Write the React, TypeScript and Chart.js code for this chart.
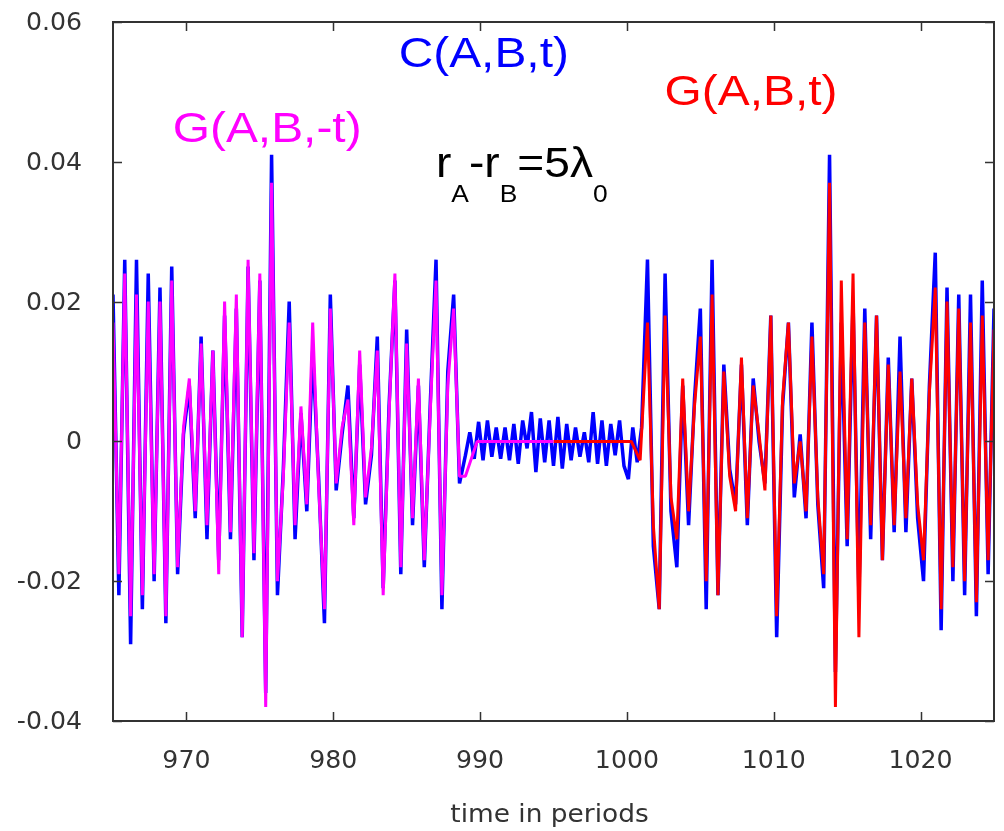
import React, { useEffect, useRef } from "react";
import { Chart, registerables } from "chart.js";

Chart.register(...registerables);

// ---- axes ----
const X_MIN = 965;
const X_MAX = 1025;
const Y_MIN = -0.04;
const Y_MAX = 0.06;
const X_TICKS = [970, 980, 990, 1000, 1010, 1020];
const X_TICK_LABELS = ["970", "980", "990", "1000", "1010", "1020"];
const Y_TICKS = [0.06, 0.04, 0.02, 0, -0.02, -0.04];
const Y_TICK_LABELS = ["0.06", "0.04", "0.02", "0", "-0.02", "-0.04"];
const X_TITLE = "time in periods";

// ---- C(A,B,t), left part: every 0.4 periods from 965 to 988.6 ----
const C_LEFT_START = 965;
const C_LEFT_STEP = 0.4;
const C_LEFT_VALUES = [
  0.021, -0.022, 0.026, -0.029, 0.026, -0.024, 0.024, -0.020, 0.022, -0.026,
  0.025, -0.019, 0.001, 0.008, -0.011, 0.015, -0.014, 0.013, -0.017, 0.018,
  -0.014, 0.019, -0.028, 0.025, -0.017, 0.023, -0.036, 0.041,
  -0.022, -0.004, 0.020, -0.014, 0.004, -0.010, 0.013, -0.005, -0.026, 0.021,
  -0.007, 0.001, 0.008, -0.011, 0.011, -0.009, -0.002, 0.015, -0.021, 0.005,
  0.023, -0.019, 0.016, -0.012, 0.008, -0.018, 0.005, 0.026, -0.024, 0.010,
  0.021, -0.006,
];

// ---- C(A,B,t), quiet part: every 0.3 periods from 989.0 to 1001.0 ----
const C_QUIET_START = 989.0;
const C_QUIET_STEP = 0.3;
const C_QUIET_VALUES = [
  -0.002, 0.0013, -0.0025, 0.0028, -0.0027, 0.003, -0.0022, 0.002, -0.0025, 0.002,
  -0.0027, 0.0025, -0.0032, 0.003, -0.001, 0.0042, -0.0044, 0.0033, -0.003, 0.003,
  -0.0035, 0.0035, -0.0039, 0.0025, -0.0027, 0.002, -0.0022, 0.0013, -0.003, 0.0042,
  -0.0032, 0.003, -0.0035, 0.0025, -0.002, 0.003, -0.0035, -0.0054, 0.002, -0.003,
  0.002,
];

// ---- C(A,B,t), right part: every 0.4 periods from 1001.4 to 1025 ----
const C_RIGHT_START = 1001.4;
const C_RIGHT_STEP = 0.4;
const C_RIGHT_VALUES = [
  0.026, -0.015, -0.024, 0.024, -0.010, -0.018, 0.008, -0.012, 0.006, 0.019,
  -0.024, 0.026, -0.022, 0.011, -0.004, -0.009, 0.011, -0.012, 0.009, 0.000,
  -0.006, 0.018, -0.028, 0.005, 0.017, -0.008, 0.001, -0.011, 0.017, -0.009,
  -0.021, 0.041, -0.033, 0.017, -0.015, 0.020, -0.022, 0.019, -0.014, 0.018,
  -0.017, 0.012, -0.013, 0.015, -0.013, 0.009, -0.011, -0.020, 0.008, 0.027,
  -0.027, 0.022, -0.020, 0.021, -0.022, 0.021, -0.025, 0.023, -0.019, 0.019,
];

// ---- G(A,B,-t): every 0.4 periods from 965 to 989, then flat ----
const GNEG_START = 965;
const GNEG_STEP = 0.4;
const GNEG_VALUES = [
  0.017, -0.019, 0.024, -0.025, 0.021, -0.022, 0.020, -0.019, 0.020, -0.025,
  0.023, -0.018, 0.002, 0.009, -0.010, 0.014, -0.012, 0.013, -0.019, 0.020,
  -0.013, 0.021, -0.028, 0.026, -0.016, 0.024, -0.038, 0.037,
  -0.020, -0.005, 0.017, -0.012, 0.005, -0.009, 0.017, -0.006, -0.024, 0.019,
  -0.006, 0.002, 0.006, -0.012, 0.013, -0.008, -0.001, 0.013, -0.022, 0.004,
  0.024, -0.018, 0.014, -0.011, 0.009, -0.017, 0.004, 0.023, -0.022, 0.008,
  0.019, -0.005, -0.005,
];
const GNEG_TAIL_T = [989.4, 989.8, 995.0];
const GNEG_TAIL_V = [-0.0025, 0, 0];

// ---- G(A,B,t): flat, then every 0.4 periods from 1001.4 to 1025 ----
const GPOS_HEAD_T = [995.0, 1000.3, 1000.9];
const GPOS_HEAD_V = [0, 0, -0.0027];
const GPOS_START = 1001.4;
const GPOS_STEP = 0.4;
const GPOS_VALUES = [
  0.017, -0.012, -0.024, 0.018, -0.008, -0.014, 0.009, -0.010, 0.005, 0.015,
  -0.020, 0.021, -0.022, 0.010, -0.005, -0.010, 0.012, -0.011, 0.008, 0.001,
  -0.007, 0.018, -0.025, 0.006, 0.017, -0.006, 0.000, -0.010, 0.015, -0.008,
  -0.019, 0.037, -0.038, 0.023, -0.014, 0.024, -0.028, 0.017, -0.012, 0.018,
  -0.017, 0.011, -0.012, 0.010, -0.011, 0.009, -0.009, -0.017, 0.007, 0.022,
  -0.024, 0.020, -0.018, 0.019, -0.020, 0.017, -0.023, 0.018, -0.017, 0.016,
];

// ---- annotation texts ----
const LABEL_C = "C(A,B,t)";
const LABEL_GNEG = "G(A,B,-t)";
const LABEL_GPOS = "G(A,B,t)";

const BLUE = "#0000ff";
const MAGENTA = "#ff00ff";
const RED = "#ff0000";
const TEXT = "#333333";

type P = { x: number; y: number };
const uniform = (start: number, step: number, vals: number[]): P[] =>
  vals.map((v, i) => ({ x: Math.round((start + step * i) * 100) / 100, y: v }));
const pairs = (ts: number[], vs: number[]): P[] => ts.map((t, i) => ({ x: t, y: vs[i] }));

function scaledText(
  ctx: CanvasRenderingContext2D,
  text: string,
  x: number,
  y: number,
  sx: number,
  align: CanvasTextAlign
) {
  ctx.save();
  ctx.translate(x, y);
  ctx.scale(sx, 1);
  ctx.textAlign = align;
  ctx.fillText(text, 0, 0);
  ctx.restore();
}

const framePlugin = {
  id: "frameAndText",
  afterDraw(chart: any) {
    const ctx: CanvasRenderingContext2D = chart.ctx;
    const a = chart.chartArea;
    const xs = chart.scales.x;
    const ys = chart.scales.y;
    ctx.save();
    // frame
    ctx.strokeStyle = TEXT;
    ctx.lineWidth = 2;
    ctx.strokeRect(a.left, a.top, a.right - a.left, a.bottom - a.top);
    // inward ticks
    ctx.lineWidth = 1.5;
    ctx.beginPath();
    X_TICKS.forEach((t) => {
      const px = Math.round(xs.getPixelForValue(t)) + 0.5;
      ctx.moveTo(px, a.bottom);
      ctx.lineTo(px, a.bottom - 9);
      ctx.moveTo(px, a.top);
      ctx.lineTo(px, a.top + 9);
    });
    Y_TICKS.forEach((v) => {
      const py = Math.round(ys.getPixelForValue(v)) + 0.5;
      ctx.moveTo(a.left, py);
      ctx.lineTo(a.left + 9, py);
      ctx.moveTo(a.right, py);
      ctx.lineTo(a.right - 9, py);
    });
    ctx.stroke();

    // tick labels
    ctx.fillStyle = TEXT;
    ctx.textBaseline = "alphabetic";
    ctx.font = '24px "DejaVu Sans", sans-serif';
    Y_TICKS.forEach((v, i) => {
      const py = ys.getPixelForValue(v);
      scaledText(ctx, Y_TICK_LABELS[i], a.left - 31, py + 8, 1.05, "right");
    });
    X_TICKS.forEach((t, i) => {
      const px = xs.getPixelForValue(t);
      scaledText(ctx, X_TICK_LABELS[i], px, a.bottom + 47, 1.05, "center");
    });
    // axis title
    scaledText(ctx, X_TITLE, (a.left + a.right) / 2 - 4, a.bottom + 101, 1.1, "center");

    // annotations
    ctx.font = '42px "Liberation Sans", Arial, sans-serif';
    ctx.fillStyle = BLUE;
    scaledText(ctx, LABEL_C, xs.getPixelForValue(990.25), ys.getPixelForValue(0.0535), 1.14, "center");
    ctx.fillStyle = MAGENTA;
    scaledText(ctx, LABEL_GNEG, xs.getPixelForValue(975.5), ys.getPixelForValue(0.0428), 1.14, "center");
    ctx.fillStyle = RED;
    scaledText(ctx, LABEL_GPOS, xs.getPixelForValue(1008.45), ys.getPixelForValue(0.0481), 1.14, "center");

    // r_A - r_B = 5 lambda_0
    ctx.fillStyle = "#000000";
    const sx = 1.1;
    let cx = xs.getPixelForValue(986.99);
    const base = ys.getPixelForValue(0.0378);
    const subBase = base + 25;
    const parts: [string, boolean][] = [
      ["r", false],
      ["A", true],
      ["-r", false],
      ["B", true],
      ["=5\u03bb", false],
      ["0", true],
    ];
    parts.forEach(([s, sub]) => {
      ctx.font = sub
        ? '24px "Liberation Sans", Arial, sans-serif'
        : '42px "Liberation Sans", Arial, sans-serif';
      scaledText(ctx, s, cx, sub ? subBase : base, sx, "left");
      cx += ctx.measureText(s).width * sx;
    });
    ctx.restore();
  },
};

export default function App() {
  const ref = useRef<HTMLCanvasElement | null>(null);

  useEffect(() => {
    document.body.style.margin = "0";
    document.body.style.background = "#ffffff";
    const canvas = ref.current;
    if (!canvas) return;

    const cData = [
      ...uniform(C_LEFT_START, C_LEFT_STEP, C_LEFT_VALUES),
      ...uniform(C_QUIET_START, C_QUIET_STEP, C_QUIET_VALUES),
      ...uniform(C_RIGHT_START, C_RIGHT_STEP, C_RIGHT_VALUES),
    ];
    const gNegData = [...uniform(GNEG_START, GNEG_STEP, GNEG_VALUES), ...pairs(GNEG_TAIL_T, GNEG_TAIL_V)];
    const gPosData = [...pairs(GPOS_HEAD_T, GPOS_HEAD_V), ...uniform(GPOS_START, GPOS_STEP, GPOS_VALUES)];

    const common = {
      pointRadius: 0,
      tension: 0,
      fill: false,
      borderJoinStyle: "bevel" as const,
    };

    const chart = new Chart(canvas, {
      type: "line",
      data: {
        datasets: [
          { label: LABEL_GNEG, data: gNegData, borderColor: MAGENTA, borderWidth: 3, order: 1, ...common },
          { label: LABEL_GPOS, data: gPosData, borderColor: RED, borderWidth: 3, order: 1, ...common },
          { label: LABEL_C, data: cData, borderColor: BLUE, borderWidth: 3.5, order: 2, ...common },
        ],
      },
      options: {
        animation: false,
        responsive: false,
        maintainAspectRatio: false,
        devicePixelRatio: 1,
        layout: { padding: { top: 22, right: 10, left: 0, bottom: 0 } },
        plugins: {
          legend: { display: false },
          tooltip: { enabled: false },
        },
        scales: {
          x: {
            type: "linear",
            min: X_MIN,
            max: X_MAX,
            grid: { display: false },
            border: { display: false },
            ticks: { display: false },
            afterFit: (s: any) => {
              s.height = 110;
            },
          },
          y: {
            type: "linear",
            min: Y_MIN,
            max: Y_MAX,
            grid: { display: false },
            border: { display: false },
            ticks: { display: false },
            afterFit: (s: any) => {
              s.width = 113;
            },
          },
        },
      },
      plugins: [framePlugin],
    });

    return () => chart.destroy();
  }, []);

  return (
    <div style={{ width: 1004, height: 831, background: "#ffffff" }}>
      <canvas ref={ref} width={1004} height={831} style={{ display: "block" }} />
    </div>
  );
}
